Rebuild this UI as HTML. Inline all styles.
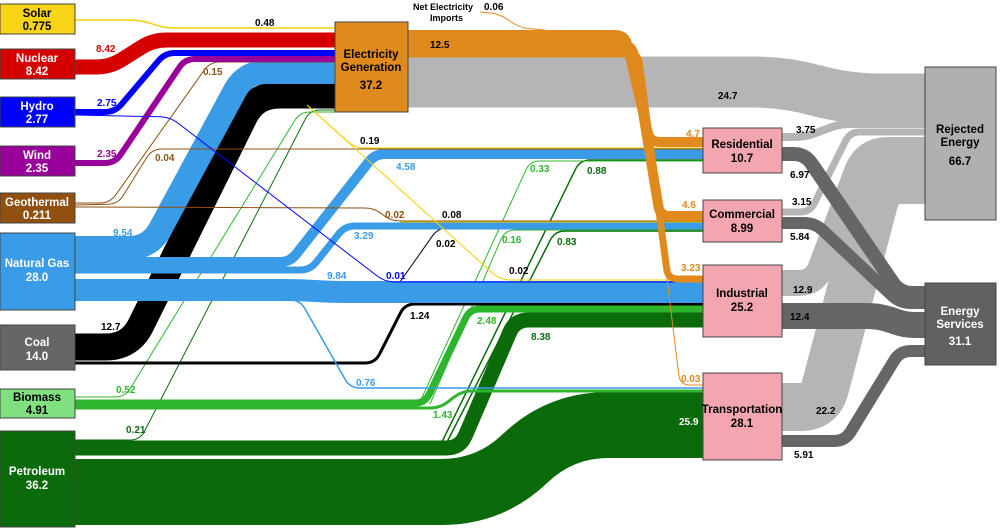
<!DOCTYPE html>
<html><head><meta charset="utf-8"><style>
html,body{margin:0;padding:0;background:#fff;}
svg{display:block;font-family:"Liberation Sans",Arial,sans-serif;font-weight:bold;}
.l{font-size:10px;}
.n{font-size:11.5px;text-anchor:middle;}
</style></head><body>
<svg id="s" width="1000" height="532" viewBox="0 0 1000 532" xmlns="http://www.w3.org/2000/svg">
<g id="flows" fill="none"></g>
<g stroke="#444" stroke-width="1">
<rect x="0" y="4" width="75" height="30" fill="#f7d417"/>
<rect x="0" y="49" width="75" height="30" fill="#d50000"/>
<rect x="0" y="97" width="75" height="30" fill="#0000ff"/>
<rect x="0" y="146" width="75" height="30" fill="#990099"/>
<rect x="0" y="193" width="75" height="30" fill="#8f5010"/>
<rect x="0" y="233" width="75" height="77" fill="#3a9be6"/>
<rect x="0" y="325" width="75" height="45" fill="#666"/>
<rect x="0" y="389" width="75" height="29" fill="#80e080"/>
<rect x="0" y="431" width="75" height="96" fill="#0b6b0b"/>
<rect x="335" y="22" width="73" height="90" fill="#e08a1e"/>
<rect x="703" y="128" width="79" height="45" fill="#f4a6b0"/>
<rect x="703" y="200" width="79" height="42" fill="#f4a6b0"/>
<rect x="703" y="265" width="79" height="72" fill="#f4a6b0"/>
<rect x="703" y="373" width="79" height="87" fill="#f4a6b0"/>
<rect x="925" y="67" width="71" height="153" fill="#b0b0b0"/>
<rect x="925" y="283" width="71" height="82" fill="#616161"/>
</g>
<g class="n">
<text x="37" y="17" fill="#000">Solar</text><text x="37" y="30" fill="#000">0.775</text>
<text x="37" y="62" fill="#fff">Nuclear</text><text x="37" y="75" fill="#fff">8.42</text>
<text x="37" y="110" fill="#fff">Hydro</text><text x="37" y="123" fill="#fff">2.77</text>
<text x="37" y="159" fill="#fff">Wind</text><text x="37" y="172" fill="#fff">2.35</text>
<text x="37" y="206" fill="#fff">Geothermal</text><text x="37" y="219" fill="#fff">0.211</text>
<text x="37" y="267" fill="#fff">Natural Gas</text><text x="37" y="281" fill="#fff">28.0</text>
<text x="37" y="346" fill="#fff">Coal</text><text x="37" y="360" fill="#fff">14.0</text>
<text x="37" y="401" fill="#000">Biomass</text><text x="37" y="414" fill="#000">4.91</text>
<text x="37" y="475" fill="#fff">Petroleum</text><text x="37" y="489" fill="#fff">36.2</text>
<text x="371" y="58" fill="#000">Electricity</text><text x="371" y="71" fill="#000">Generation</text><text x="371" y="89" fill="#000">37.2</text>
<text x="742" y="148" fill="#000">Residential</text><text x="742" y="162" fill="#000">10.7</text>
<text x="742" y="218" fill="#000">Commercial</text><text x="742" y="232" fill="#000">8.99</text>
<text x="742" y="297" fill="#000">Industrial</text><text x="742" y="311" fill="#000">25.2</text>
<text x="742" y="413" fill="#000">Transportation</text><text x="742" y="427" fill="#000">28.1</text>
<text x="960" y="133" fill="#000">Rejected</text><text x="960" y="146" fill="#000">Energy</text><text x="960" y="165" fill="#000">66.7</text>
<text x="960" y="315" fill="#fff">Energy</text><text x="960" y="328" fill="#fff">Services</text><text x="960" y="345" fill="#fff">31.1</text>
</g>
<g class="l">
<text x="255" y="26">0.48</text>
<text x="96" y="52" fill="#d50000">8.42</text>
<text x="97" y="106" fill="#0000ff">2.75</text>
<text x="97" y="157" fill="#990099">2.35</text>
<text x="203" y="75" fill="#8f5010">0.15</text>
<text x="155" y="161" fill="#8f5010">0.04</text>
<text x="385" y="218" fill="#8f5010">0.02</text>
<text x="113" y="236" fill="#3a9be6">9.54</text>
<text x="396" y="170" fill="#3a9be6">4.58</text>
<text x="354" y="239" fill="#3a9be6">3.29</text>
<text x="327" y="279" fill="#3a9be6">9.84</text>
<text x="356" y="386" fill="#3a9be6">0.76</text>
<text x="386" y="279" fill="#0000ff">0.01</text>
<text x="360" y="144">0.19</text>
<text x="442" y="218">0.08</text>
<text x="436" y="247">0.02</text>
<text x="509" y="274">0.02</text>
<text x="101" y="330">12.7</text>
<text x="410" y="319">1.24</text>
<text x="116" y="393" fill="#2db52d">0.52</text>
<text x="530" y="172" fill="#2db52d">0.33</text>
<text x="502" y="243" fill="#2db52d">0.16</text>
<text x="477" y="324" fill="#2db52d">2.48</text>
<text x="433" y="418" fill="#2db52d">1.43</text>
<text x="126" y="433" fill="#0b6b0b">0.21</text>
<text x="587" y="174" fill="#0b6b0b">0.88</text>
<text x="557" y="245" fill="#0b6b0b">0.83</text>
<text x="531" y="340" fill="#0b6b0b">8.38</text>
<text x="679" y="425" fill="#fff">25.9</text>
<text x="430" y="48">12.5</text>
<text x="718" y="99">24.7</text>
<text x="686" y="137" fill="#e08a1e">4.7</text>
<text x="682" y="208" fill="#e08a1e">4.6</text>
<text x="681" y="271" fill="#e08a1e">3.23</text>
<text x="681" y="382" fill="#e08a1e">0.03</text>
<text x="413" y="10" style="font-size:9px">Net Electricity</text>
<text x="430" y="21" style="font-size:9px">Imports</text>
<text x="484" y="10">0.06</text>
<text x="796" y="133">3.75</text>
<text x="790" y="178">6.97</text>
<text x="792" y="205">3.15</text>
<text x="790" y="240">5.84</text>
<text x="793" y="293">12.9</text>
<text x="790" y="320">12.4</text>
<text x="816" y="414">22.2</text>
<text x="794" y="458">5.91</text>
</g>
</svg>
<script>
var F=[
// right side
['#b5b5b5',48,[[782,407],[820,407],[880,180],[925,180]]],
['#b5b5b5',26,[[782,283],[815,283],[865,150],[925,150]]],
['#b5b5b5',7,[[782,212],[810,212],[850,132],[925,132]]],
['#b5b5b5',8,[[782,137],[805,137],[840,124],[925,124]]],
['#666',14,[[782,154],[805,154],[900,293],[925,293]]],
['#666',12,[[782,223],[815,223],[900,303],[925,303]]],
['#666',26,[[782,316],[880,316],[905,325],[925,325]]],
['#666',12,[[782,441],[845,441],[900,351],[925,351]]],
['#b5b5b5',51,[[408,82],[785,82],[847,99],[925,99]]],
// petroleum
['#0b6b0b',66,[[75,492],[490,492],[560,425],[703,425]]],
['#0b6b0b',15,[[75,448],[460,448],[515,320],[703,320]]],
['#0b6b0b',1.5,[[440,446],[580,160],[703,160]]],
['#0b6b0b',1.5,[[445,446],[555,231],[703,231]]],
['#0b6b0b',1,[[75,440],[140,440],[310,110],[335,110]]],
// biomass
['#2db52d',7,[[75,403],[425,403],[470,309],[703,309]]],
['#2db52d',3,[[75,408],[440,408],[462,391],[703,391]]],
['#2db52d',1,[[75,397],[125,397],[300,112],[335,112]]],
['#2db52d',1,[[420,402],[530,161],[703,161]]],
['#2db52d',1,[[430,404],[505,230],[703,230]]],
// coal
['#000',27,[[75,347],[130,347],[255,95],[335,95]]],
['#000',3,[[75,363],[375,363],[405,304],[703,304]]],
['#000',1,[[400,282],[438,228],[480,226]]],
// gas
['#3a9be6',24,[[75,248],[150,248],[245,72],[335,72]]],
['#3a9be6',10,[[75,262],[290,262],[375,154],[703,154]]],
['#3a9be6',7,[[75,270],[310,270],[345,226],[703,226]]],
['#3a9be6',22,[[75,290],[300,290],[330,292],[703,292]]],
['#3a9be6',1.5,[[75,300],[300,300],[350,388],[703,388]]],
// geothermal
['#8f5010',1,[[75,203],[110,203],[210,62],[335,62]]],
['#8f5010',1,[[75,205],[118,204],[152,149],[703,149]]],
['#8f5010',1,[[75,207],[375,208],[390,221],[703,221]]],
// wind hydro nuclear solar
['#990099',6,[[75,163],[115,163],[185,59],[335,59]]],
['#0000ff',6,[[75,112],[115,112],[165,53],[335,53]]],
['#0000ff',1,[[75,115],[170,117],[385,282],[703,282]]],
['#d50000',15,[[75,67],[110,67],[153,40],[335,40]]],
['#f5d000',1.5,[[75,20],[140,20],[165,28],[335,28]]],
['#f5d000',1,[[307,105],[355,148],[703,148]]],
['#f5d000',1,[[307,105],[500,280],[703,280]]],
['#f5d000',1,[[400,222],[703,222]]],
// electricity
['#e08a1e',10,[[408,35],[625,35],[650,142],[703,142]]],
['#e08a1e',10,[[408,45],[632,45],[660,216],[703,216]]],
['#e08a1e',7,[[408,53],[638,53],[668,279],[703,279]]],
['#e08a1e',1,[[408,57],[640,57],[680,385],[703,385]]],
['#e08a1e',1,[[480,12],[500,14],[520,28],[545,30]]]
];
function rp(p,r){var d='M'+p[0][0]+' '+p[0][1];
for(var i=1;i<p.length-1;i++){var a=p[i-1],b=p[i],c=p[i+1];
var l1=Math.hypot(b[0]-a[0],b[1]-a[1]),l2=Math.hypot(c[0]-b[0],c[1]-b[1]);
var rr=Math.min(r,l1/2,l2/2);
var x1=b[0]-(b[0]-a[0])/l1*rr,y1=b[1]-(b[1]-a[1])/l1*rr,x2=b[0]+(c[0]-b[0])/l2*rr,y2=b[1]+(c[1]-b[1])/l2*rr;
d+=' L'+x1+' '+y1+' Q'+b[0]+' '+b[1]+' '+x2+' '+y2;}
var e=p[p.length-1];return d+' L'+e[0]+' '+e[1];}
var g=document.getElementById('flows'),ns='http://www.w3.org/2000/svg';
F.forEach(function(f){var el=document.createElementNS(ns,'path');
el.setAttribute('d',rp(f[2],Math.max(10,f[1]*0.9)));
el.setAttribute('stroke',f[0]);el.setAttribute('stroke-width',f[1]);g.appendChild(el);});
</script>
</body></html>
